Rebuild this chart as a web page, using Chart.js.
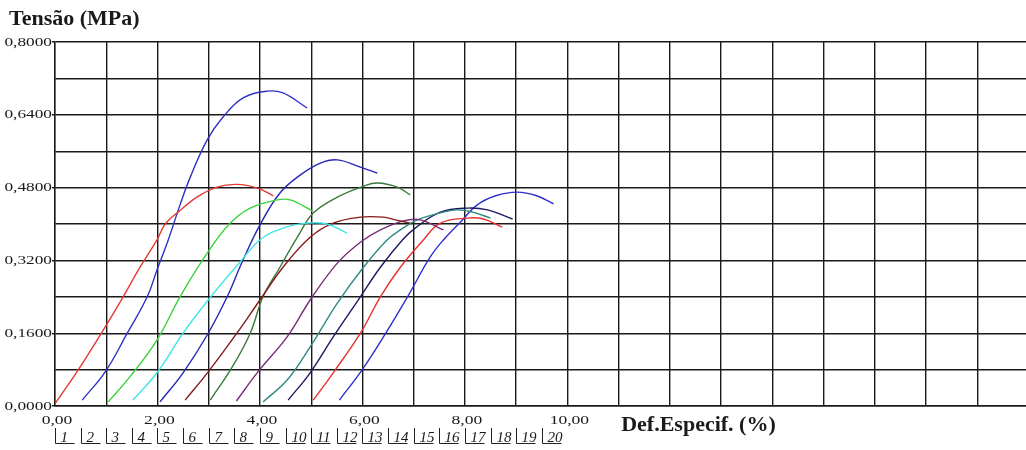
<!DOCTYPE html>
<html>
<head>
<meta charset="utf-8">
<script src="https://cdn.jsdelivr.net/npm/chart.js@4/dist/chart.umd.min.js"></script>
<style>
  html, body { margin: 0; padding: 0; background: #fff; }
  #wrap { width: 1026px; height: 450px; position: relative; }
</style>
</head>
<body>
<div id="wrap"><canvas id="myChart"></canvas></div>
<script>
// curve values: [strain %, stress MPa]
const curve1 = [[0.00,0.005],[0.45,0.079],[0.98,0.174],[1.33,0.240],[1.66,0.305],[1.99,0.365],[2.15,0.400],[2.40,0.426],[2.77,0.459],[3.16,0.481],[3.55,0.487],[3.95,0.479],[4.26,0.462]];
const curve2 = [[0.53,0.013],[0.98,0.075],[1.41,0.160],[1.80,0.240],[1.99,0.299],[2.21,0.365],[2.44,0.442],[2.64,0.503],[2.97,0.585],[3.28,0.635],[3.67,0.677],[4.14,0.692],[4.45,0.688],[4.92,0.655]];
const curve3 = [[1.04,0.009],[1.46,0.064],[1.99,0.145],[2.44,0.240],[2.97,0.336],[3.42,0.402],[3.81,0.435],[4.34,0.453],[4.59,0.453],[5.02,0.429]];
const curve4 = [[1.52,0.013],[1.99,0.073],[2.50,0.160],[2.99,0.233],[3.61,0.316],[4.00,0.365],[4.45,0.391],[4.92,0.402],[5.31,0.400],[5.70,0.380]];
const curve5 = [[2.05,0.009],[2.50,0.073],[2.97,0.156],[3.36,0.240],[3.65,0.316],[4.00,0.398],[4.39,0.468],[4.79,0.508],[5.18,0.534],[5.51,0.541],[5.96,0.525],[6.29,0.512]];
const curve6 = [[2.54,0.013],[2.99,0.075],[3.55,0.160],[4.00,0.233],[4.45,0.305],[4.98,0.371],[5.43,0.402],[5.96,0.415],[6.41,0.415],[6.64,0.409],[6.93,0.402]];
const curve7 = [[3.03,0.013],[3.46,0.086],[3.81,0.160],[4.06,0.240],[4.39,0.305],[4.73,0.371],[5.04,0.424],[5.51,0.459],[6.02,0.483],[6.29,0.490],[6.68,0.481],[6.93,0.464]];
const curve8 = [[3.54,0.011],[3.96,0.075],[4.53,0.152],[4.98,0.233],[5.51,0.314],[5.96,0.360],[6.35,0.387],[6.80,0.407],[7.13,0.409],[7.58,0.387]];
const curve9 = [[4.06,0.009],[4.53,0.057],[4.98,0.130],[5.51,0.226],[6.02,0.305],[6.48,0.365],[6.74,0.387],[7.07,0.409],[7.50,0.424],[7.85,0.431],[8.15,0.426],[8.50,0.413]];
const curve10 = [[4.55,0.013],[4.98,0.073],[5.43,0.152],[5.96,0.240],[6.35,0.305],[6.78,0.365],[7.03,0.391],[7.52,0.426],[8.05,0.435],[8.44,0.431],[8.93,0.411]];
const curve11 = [[5.04,0.013],[5.43,0.073],[5.96,0.160],[6.35,0.240],[6.74,0.305],[7.19,0.365],[7.52,0.402],[8.05,0.413],[8.36,0.411],[8.73,0.393]];
const curve12 = [[5.55,0.013],[5.99,0.079],[6.41,0.152],[6.88,0.240],[7.32,0.327],[7.58,0.365],[7.91,0.404],[8.24,0.442],[8.60,0.462],[9.02,0.470],[9.40,0.462],[9.73,0.444]];

const curves = [curve1, curve2, curve3, curve4, curve5, curve6, curve7, curve8, curve9, curve10, curve11, curve12];
const curveColors = ["#e53935", "#3030c8", "#3cd23c", "#3ee6e6", "#2626b8", "#861a1a",
                     "#3a7a3a", "#7a2c7a", "#2e8a80", "#1a1a66", "#e83030", "#2e2ed2"];
const curveLabels = ["1","2","3","4","5","6","7","8","9","10","11","12","13","14","15","16","17","18","19","20"];

const yTickValues = [0, 0.08, 0.16, 0.24, 0.32, 0.40, 0.48, 0.56, 0.64, 0.72, 0.80];
const xTickValues = [0,1,2,3,4,5,6,7,8,9,10,11,12,13,14,15,16,17,18];

const serif = '"Liberation Serif", "Times New Roman", serif';

// text a bit wider than the font, like the scanned original
function wideText(c, txt, x, y, align, sx) {
    c.save();
    c.translate(x, y);
    c.scale(sx, 1);
    c.textAlign = align;
    c.fillText(txt, 0, 0);
    c.restore();
}

const extras = {
    id: 'extras',
    afterDraw(chart) {
        const { ctx, chartArea, scales: { x, y } } = chart;
        ctx.save();
        ctx.fillStyle = '#1a1a1a';
        ctx.textBaseline = 'middle';

        // tick labels
        ctx.font = '13.5px ' + serif;
        yTickValues.forEach((v, i) => {
            if (i % 2) return;
            wideText(ctx, v.toFixed(4).replace('.', ','), chartArea.left - 3, y.getPixelForValue(v), 'right', 1.28);
        });
        xTickValues.forEach(v => {
            if (v % 2 || v > 10) return;
            wideText(ctx, v.toFixed(2).replace('.', ','), x.getPixelForValue(v) + 2, chartArea.bottom + 14, 'center', 1.3);
        });

        // titles
        ctx.textBaseline = 'alphabetic';
        ctx.font = 'bold 22px ' + serif;
        wideText(ctx, 'Tensão (MPa)', 9, 25, 'left', 1);
        ctx.font = 'bold 20px ' + serif;
        wideText(ctx, 'Def.Especif. (%)', x.getPixelForValue(11.05), chartArea.bottom + 25, 'left', 1.1);

        // little numbered brackets under the axis
        ctx.font = 'italic 15px ' + serif;
        ctx.strokeStyle = '#222';
        ctx.lineWidth = 1;
        curveLabels.forEach((lab, i) => {
            const px = Math.round(x.getPixelForValue(i * 0.5)) + 0.5;
            ctx.beginPath();
            ctx.moveTo(px, 428);
            ctx.lineTo(px, 443.5);
            ctx.lineTo(px + 19, 443.5);
            ctx.stroke();
            wideText(ctx, lab, px + 5, 442, 'left', 1);
        });
        ctx.restore();
    }
};

const ctx = document.getElementById('myChart');

new Chart(ctx, {
    type: 'line',
    data: {
        datasets: curves.map((c, i) => ({
            label: curveLabels[i],
            data: c.map(p => ({ x: p[0], y: p[1] })),
            borderColor: curveColors[i],
            borderWidth: 1.4,
            pointRadius: 0,
            fill: false,
            tension: 0.4
        }))
    },
    options: {
        responsive: true,
        maintainAspectRatio: false,
        animation: false,
        layout: { padding: { top: 42, right: 0, bottom: 0, left: 0 } },
        plugins: {
            legend: { display: false },
            tooltip: { enabled: false }
        },
        scales: {
            x: {
                type: 'linear',
                min: 0,
                max: 18.95,
                afterBuildTicks: s => { s.ticks = xTickValues.map(v => ({ value: v })); },
                afterFit: s => { s.height = 44; },
                grid: { color: '#1a1a1a', lineWidth: 1.4, drawTicks: false },
                border: { color: '#1a1a1a', width: 1.4 },
                ticks: { display: false }
            },
            y: {
                min: 0,
                max: 0.8,
                afterBuildTicks: s => { s.ticks = yTickValues.map(v => ({ value: v })); },
                afterFit: s => { s.width = 55; },
                grid: {
                    color: '#1a1a1a',
                    lineWidth: 1.4,
                    tickLength: 3,
                    tickColor: c => (c.index % 2 === 0 ? '#1a1a1a' : 'rgba(0,0,0,0)')
                },
                border: { color: '#1a1a1a', width: 1.4 },
                ticks: { display: false }
            }
        }
    },
    plugins: [extras]
});
</script>
</body>
</html>
